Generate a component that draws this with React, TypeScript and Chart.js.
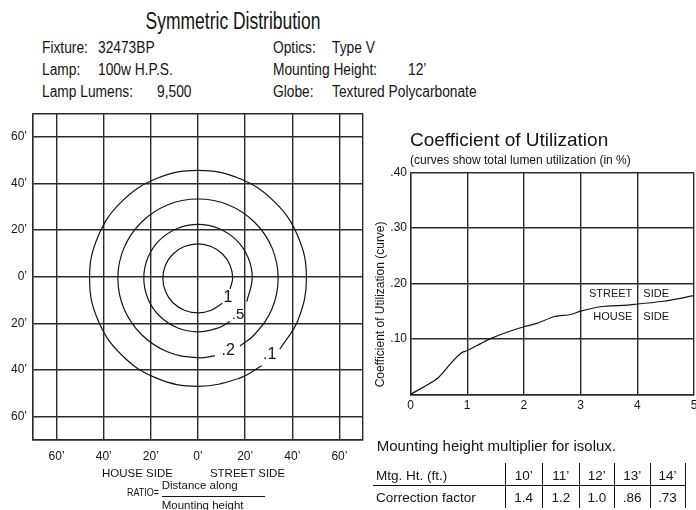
import React, { useEffect, useRef } from 'react';
import { Chart, registerables } from 'chart.js';

Chart.register(...registerables);

const FONT = '"Liberation Sans", Arial, Helvetica, sans-serif';
const INK = '#141414';
const GRID = '#2b2b2b';

// ---------- isolux plot (feet) ----------
const isoluxLevels = ['1', '.5', '.2', '.1'];
const isolux1 = [
  [10.3, -11.4], [5.6, -14.4], [0, -15.55], [-5.8, -14.4], [-10.6, -11.2], [-13.8, -6.4], [-14.9, -0.75],
  [-13.8, 4.9], [-10.6, 9.7], [-5.8, 12.9], [0, 14.05], [5.6, 12.9], [10.4, 9.7], [13.6, 4.9],
  [14.7, -0.75], [13.6, -5.2],
];
const isolux05 = [
  [13.6, -19.2], [8.8, -21.9], [0, -23.65], [-8.8, -21.9], [-16.3, -16.9], [-21.25, -9.45], [-23, -0.65],
  [-21.25, 8.15], [-16.3, 15.6], [-8.8, 20.6], [0, 22.35], [8.8, 20.6], [16.3, 15.6], [21.25, 8.15],
  [23, -0.65], [20.7, -10.7],
];
const isolux02 = [
  [7.2, -34.0], [0, -34.75], [-13, -32.2], [-24, -24.8], [-31.4, -13.8], [-34, -0.75], [-31.4, 12.3],
  [-24, 23.3], [-13, 30.7], [0, 33.25], [13, 30.7], [24, 23.3], [31.4, 12.3], [34, -0.75],
  [31.4, -13.8], [24, -24.8], [17.8, -29.7],
];
const isolux01 = [
  [27.0, -38.2], [17.6, -43.5], [0, -47], [-17.6, -43.5], [-32.5, -33.5], [-42.5, -18.5], [-46, -0.75],
  [-42.5, 17], [-32.5, 32], [-17.6, 42], [0, 45.5], [17.6, 42], [32.5, 32], [42.5, 17],
  [46, -0.75], [42.5, -18.5], [34.7, -31.1],
];
const isoluxLabelX = [12.7, 17, 12.8, 30.4];
const isoluxLabelY = [-8.9, -16.2, -31.5, -33.6];
const isoluxTicks = [-70, -60, -40, -20, 0, 20, 40, 60, 70];

// ---------- coefficient of utilization ----------
const cuRatio = [0, 0.22, 0.49, 0.73, 0.9, 1.0, 1.23, 1.4, 1.7, 2.0, 2.23, 2.53, 2.82, 3.0, 3.35, 3.82, 4.0, 4.46, 5.0];
const cuValue = [0, 0.0125, 0.03, 0.058, 0.075, 0.079, 0.091, 0.1, 0.112, 0.122, 0.128, 0.14, 0.144, 0.15, 0.158, 0.161, 0.163, 0.168, 0.178];
const cuRatioTicks = [0, 1, 2, 3, 4, 5];
const cuValueTicks = [0, 0.1, 0.2, 0.3, 0.4];

// ---------- mounting height table ----------
const mtgHeights = ['10’', '11’', '12’', '13’', '14’'];
const correctionFactors = ['1.4', '1.2', '1.0', '.86', '.73'];

type TxtProps = { x: number; y: number; size: number; children: any; align?: 'left' | 'center' | 'right'; sx?: number };
function Txt({ x, y, size, children, align = 'left', sx = 1 }: TxtProps) {
  const tx = align === 'left' ? '0' : align === 'center' ? '-50%' : '-100%';
  return (
    <div
      style={{
        position: 'absolute',
        left: x,
        top: y - 0.49 * size,
        fontFamily: FONT,
        fontSize: size,
        lineHeight: `${size}px`,
        whiteSpace: 'pre',
        color: INK,
        transform: `translateX(${tx}) scaleX(${sx})`,
        transformOrigin: `${align} center`,
      }}
    >
      {children}
    </div>
  );
}

function Line({ x, y, w, h }: { x: number; y: number; w: number; h: number }) {
  return <div style={{ position: 'absolute', left: x, top: y, width: w, height: h, background: INK }} />;
}

function IsoluxChart() {
  const ref = useRef<HTMLCanvasElement>(null);
  useEffect(() => {
    const contours = [isolux1, isolux05, isolux02, isolux01];
    const labelPlugin = {
      id: 'isoluxLabels',
      afterDatasetsDraw(chart: any) {
        const { ctx, scales } = chart;
        ctx.save();
        ctx.fillStyle = INK;
        ctx.textAlign = 'center';
        ctx.textBaseline = 'middle';
        isoluxLevels.forEach((t, i) => {
          ctx.font = `${i === 1 ? 15 : 16}px ${FONT}`;
          ctx.fillText(t, scales.x.getPixelForValue(isoluxLabelX[i]), scales.y.getPixelForValue(isoluxLabelY[i]));
        });
        ctx.restore();
      },
    };
    const fmt = (v: number) => (Math.abs(v) === 70 ? '' : `${Math.abs(v)}’`);
    const chart = new Chart(ref.current as HTMLCanvasElement, {
      type: 'scatter',
      data: {
        datasets: contours.map((c) => ({
          data: c.map(([x, y]) => ({ x, y })),
          showLine: true,
          borderColor: INK,
          borderWidth: 1.2,
          pointRadius: 0,
          tension: 0.4,
          fill: false,
        })),
      },
      options: {
        animation: false,
        responsive: false,
        layout: { padding: { top: 10.7, right: 9, left: 0, bottom: 0 } },
        plugins: { legend: { display: false }, tooltip: { enabled: false } },
        scales: {
          x: {
            type: 'linear',
            min: -70,
            max: 70,
            afterBuildTicks: (s: any) => {
              s.ticks = isoluxTicks.map((v) => ({ value: v }));
            },
            afterFit: (s: any) => {
              s.height = 35;
            },
            grid: { color: GRID, lineWidth: 1.4, drawTicks: false },
            border: { color: GRID, width: 1.4 },
            ticks: { autoSkip: false, maxRotation: 0, padding: 9, color: INK, font: { family: FONT, size: 12 }, callback: (v: any) => fmt(v) },
          },
          y: {
            type: 'linear',
            min: -70,
            max: 70,
            afterBuildTicks: (s: any) => {
              s.ticks = isoluxTicks.map((v) => ({ value: v }));
            },
            afterFit: (s: any) => {
              s.width = 33;
            },
            grid: { color: GRID, lineWidth: 1.4, drawTicks: false },
            border: { color: GRID, width: 1.4 },
            ticks: { autoSkip: false, padding: 6, color: INK, font: { family: FONT, size: 12 }, callback: (v: any) => fmt(v) },
          },
        },
      } as any,
      plugins: [labelPlugin],
    });
    return () => chart.destroy();
  }, []);
  return <canvas ref={ref} width={372} height={375} style={{ position: 'absolute', left: 0, top: 100, width: 372, height: 375 }} />;
}

function CuChart() {
  const ref = useRef<HTMLCanvasElement>(null);
  useEffect(() => {
    const textPlugin = {
      id: 'cuText',
      afterDatasetsDraw(chart: any) {
        const { ctx, scales, chartArea } = chart;
        const gx = scales.x.getPixelForValue(4);
        ctx.save();
        ctx.fillStyle = INK;
        ctx.textBaseline = 'middle';
        ctx.font = `11px ${FONT}`;
        ctx.textAlign = 'right';
        ctx.fillText('STREET', gx - 5, scales.y.getPixelForValue(0.182));
        ctx.fillText('HOUSE', gx - 5, scales.y.getPixelForValue(0.14));
        ctx.textAlign = 'left';
        ctx.fillText('SIDE', gx + 6, scales.y.getPixelForValue(0.182));
        ctx.fillText('SIDE', gx + 6, scales.y.getPixelForValue(0.14));
        // vertical axis title
        ctx.translate(scales.y.left + 10.5, chartArea.bottom - 7);
        ctx.rotate(-Math.PI / 2);
        ctx.font = `12px ${FONT}`;
        ctx.textAlign = 'left';
        ctx.fillText('Coefficient of Utilization (curve)', 0, 0);
        ctx.restore();
      },
    };
    const chart = new Chart(ref.current as HTMLCanvasElement, {
      type: 'scatter',
      data: {
        datasets: [
          {
            data: cuRatio.map((x, i) => ({ x, y: cuValue[i] })),
            showLine: true,
            borderColor: INK,
            borderWidth: 1.2,
            pointRadius: 0,
            tension: 0.25,
            fill: false,
          },
        ],
      },
      options: {
        animation: false,
        responsive: false,
        layout: { padding: { top: 8, right: 16, left: 0, bottom: 0 } },
        plugins: { legend: { display: false }, tooltip: { enabled: false } },
        scales: {
          x: {
            type: 'linear',
            min: 0,
            max: 5,
            afterBuildTicks: (s: any) => {
              s.ticks = cuRatioTicks.map((v) => ({ value: v }));
            },
            afterFit: (s: any) => {
              s.height = 25.7;
            },
            grid: { color: GRID, lineWidth: 1.4, drawTicks: false },
            border: { color: GRID, width: 1.4 },
            ticks: { autoSkip: false, maxRotation: 0, padding: 4.5, color: INK, font: { family: FONT, size: 12 }, callback: (v: any) => String(v) },
          },
          y: {
            type: 'linear',
            min: 0,
            max: 0.4,
            afterBuildTicks: (s: any) => {
              s.ticks = cuValueTicks.map((v) => ({ value: v }));
            },
            afterFit: (s: any) => {
              s.width = 40.5;
            },
            grid: { color: GRID, lineWidth: 1.4, drawTicks: false },
            border: { color: GRID, width: 1.4 },
            ticks: {
              autoSkip: false,
              padding: 3.5,
              color: INK,
              font: { family: FONT, size: 12 },
              callback: (v: any) => (v === 0 ? '' : '.' + String(Math.round(v * 100)).padStart(2, '0')),
            },
          },
        },
      } as any,
      plugins: [textPlugin],
    });
    return () => chart.destroy();
  }, []);
  return <canvas ref={ref} width={340} height={258} style={{ position: 'absolute', left: 370, top: 162, width: 340, height: 258 }} />;
}

const colSep = [505, 542.3, 579.3, 614.3, 650, 685];

export default function App() {
  const colCenters = colSep.slice(0, -1).map((x, i) => (x + colSep[i + 1]) / 2);
  return (
    <div style={{ position: 'absolute', left: 0, top: 0, width: 696, height: 510, overflow: 'hidden', background: '#fff' }}>
      <Txt x={233} y={21.7} size={23} sx={0.76} align="center">Symmetric Distribution</Txt>
      <Txt x={41.7} y={48.2} size={16} sx={0.86}>Fixture:</Txt>
      <Txt x={98.3} y={48.2} size={16} sx={0.86}>32473BP</Txt>
      <Txt x={41.7} y={70} size={16} sx={0.86}>Lamp:</Txt>
      <Txt x={98.3} y={70} size={16} sx={0.86}>100w H.P.S.</Txt>
      <Txt x={41.7} y={92} size={16} sx={0.86}>Lamp Lumens:</Txt>
      <Txt x={156.7} y={92} size={16} sx={0.86}>9,500</Txt>
      <Txt x={273.3} y={48.2} size={16} sx={0.86}>Optics:</Txt>
      <Txt x={331.7} y={48.2} size={16} sx={0.86}>Type V</Txt>
      <Txt x={273.3} y={70} size={16} sx={0.86}>Mounting Height:</Txt>
      <Txt x={408.3} y={70} size={16} sx={0.86}>12’</Txt>
      <Txt x={273.3} y={92} size={16} sx={0.86}>Globe:</Txt>
      <Txt x={331.7} y={92} size={16} sx={0.86}>Textured Polycarbonate</Txt>

      <IsoluxChart />
      <CuChart />

      <Txt x={410} y={139.5} size={19}>Coefficient of Utilization</Txt>
      <Txt x={410} y={160} size={12}>(curves show total lumen utilization (in %)</Txt>

      <Txt x={137.5} y={473.7} size={11.5} align="center">HOUSE SIDE</Txt>
      <Txt x={247.5} y={473.7} size={11.5} align="center">STREET SIDE</Txt>
      <Txt x={126.7} y={493} size={11.5} sx={0.78}>RATIO=</Txt>
      <Txt x={161.7} y={486} size={11.5}>Distance along</Txt>
      <Line x={161.7} y={496.2} w={103.3} h={1} />
      <Txt x={161.7} y={506} size={11.5}>Mounting height</Txt>

      <Txt x={376.7} y={445} size={15}>Mounting height multiplier for isolux.</Txt>
      <Txt x={376} y={476} size={13.5}>Mtg. Ht. (ft.)</Txt>
      <Txt x={376} y={498} size={13.5}>Correction factor</Txt>
      {mtgHeights.map((t, i) => (
        <Txt key={'h' + i} x={colCenters[i]} y={476} size={13.5} align="center">{t}</Txt>
      ))}
      {correctionFactors.map((t, i) => (
        <Txt key={'c' + i} x={colCenters[i]} y={498} size={13.5} align="center">{t}</Txt>
      ))}
      <Line x={373} y={485} w={312} h={1} />
      {colSep.map((x, i) => (
        <Line key={'s' + i} x={x} y={463.3} w={1} h={45} />
      ))}
    </div>
  );
}
